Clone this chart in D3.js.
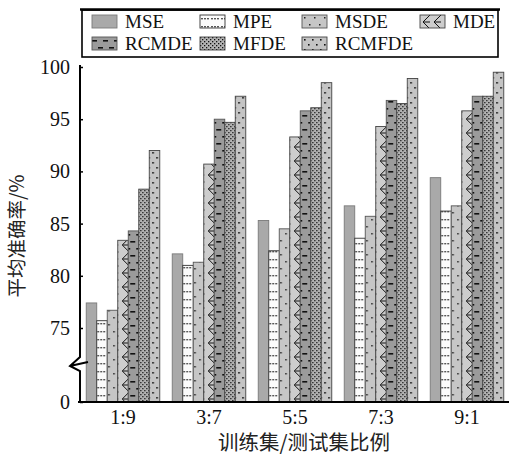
<!DOCTYPE html>
<html>
<head>
<meta charset="utf-8">
<script src="https://cdn.jsdelivr.net/npm/d3@7"></script>
<style>
  body { margin: 0; background: #fff; }
  svg { display: block; }
</style>
</head>
<body>
<svg id="chart" width="509" height="456"></svg>
<script>
// data
const categories = ['1:9', '3:7', '5:5', '7:3', '9:1']
const seriesNames = ['MSE', 'MPE', 'MSDE', 'MDE', 'RCMDE', 'MFDE', 'RCMFDE']
const mse = [77.4, 82.1, 85.3, 86.7, 89.4]
const mpe = [75.7, 81.0, 82.4, 83.6, 86.2]
const msde = [76.7, 81.3, 84.5, 85.7, 86.7]
const mde = [83.4, 90.7, 93.3, 94.3, 95.8]
const rcmde = [84.3, 95.0, 95.8, 96.8, 97.2]
const mfde = [88.3, 94.7, 96.1, 96.5, 97.2]
const rcmfde = [92.0, 97.2, 98.5, 98.9, 99.5]
const yTicks = [0, 75, 80, 85, 90, 95, 100]

const seriesValues = [mse, mpe, msde, mde, rcmde, mfde, rcmfde]

const svg = d3.select('#chart')
const defs = svg.append('defs')

// fill patterns, one per series
function pattern(id, w, h, bg, draw) {
  const p = defs.append('pattern')
    .attr('id', id)
    .attr('patternUnits', 'userSpaceOnUse')
    .attr('width', w).attr('height', h)
  p.append('rect').attr('width', w).attr('height', h).attr('fill', bg)
  draw(p)
}

pattern('p-mse', 8, 8, '#a9a9a9', () => {})
pattern('p-mpe', 10, 8, '#fbfbfb', p => {
  [2, 5, 8].forEach(x => p.append('rect').attr('x', x - 0.7).attr('y', 3).attr('width', 1.4).attr('height', 1.4).attr('fill', '#111'))
})
pattern('p-msde', 10, 14, '#c6c6c6', p => {
  p.append('rect').attr('x', 2).attr('y', 2).attr('width', 1.5).attr('height', 1.5).attr('fill', '#222')
  p.append('rect').attr('x', 7).attr('y', 9).attr('width', 1.5).attr('height', 1.5).attr('fill', '#222')
})
pattern('p-mde', 11, 14, '#cdcdcd', p => {
  p.append('path').attr('d', 'M10,0 L3,7 L10,7 M3,7 L10,14')
    .attr('stroke', '#111').attr('stroke-width', 1).attr('fill', 'none')
})
pattern('p-rcmde', 11, 14, '#9b9b9b', p => {
  p.append('rect').attr('x', 0).attr('y', 3).attr('width', 5).attr('height', 1.6).attr('fill', '#111')
  p.append('rect').attr('x', 6).attr('y', 10).attr('width', 5).attr('height', 1.6).attr('fill', '#111')
})
pattern('p-mfde', 4, 4, '#b4b4b4', p => {
  p.append('rect').attr('x', 0).attr('y', 0).attr('width', 1.3).attr('height', 1.3).attr('fill', '#111')
  p.append('rect').attr('x', 2).attr('y', 2).attr('width', 1.3).attr('height', 1.3).attr('fill', '#111')
})
pattern('p-rcmfde', 8, 10, '#c4c4c4', p => {
  p.append('rect').attr('x', 2).attr('y', 2).attr('width', 1.6).attr('height', 1.6).attr('fill', '#111')
  p.append('rect').attr('x', 6).attr('y', 7).attr('width', 1.6).attr('height', 1.6).attr('fill', '#111')
})

const fills = seriesNames.map(s => `url(#p-${s.toLowerCase()})`)
const strokes = ['#7a7a7a', '#333', '#555', '#444', '#555', '#444', '#444']

// scales
const x = d3.scaleBand()
  .domain(categories)
  .range([80, 510])
  .paddingInner(0.145)
  .paddingOuter(0.0725)

const xInner = d3.scaleBand()
  .domain(seriesNames)
  .range([0, x.bandwidth()])

// broken axis: 0..70 squeezed into the bottom strip
const y = d3.scaleLinear()
  .domain([0, 70, 100])
  .range([402, 380.2, 67])

// bars
const groups = svg.append('g').selectAll('g')
  .data(categories)
  .join('g')
  .attr('transform', d => `translate(${x(d)},0)`)

groups.selectAll('rect')
  .data((c, i) => seriesNames.map((s, k) => ({ s, k, v: seriesValues[k][i] })))
  .join('rect')
  .attr('x', d => xInner(d.s))
  .attr('y', d => y(d.v))
  .attr('width', xInner.bandwidth())
  .attr('height', d => y(0) - y(d.v))
  .attr('fill', d => fills[d.k])
  .attr('stroke', d => strokes[d.k])
  .attr('stroke-width', 0.9)

// x axis
const xAxis = d3.axisBottom(x).tickSize(0).tickPadding(8)
const gx = svg.append('g')
  .attr('transform', `translate(0,${y(0)})`)
  .call(xAxis)
gx.select('.domain').remove()
gx.append('line')
  .attr('x1', 78).attr('x2', 509)
  .attr('stroke', '#000').attr('stroke-width', 2.2)
gx.selectAll('.tick text')
  .attr('font-family', '"Liberation Serif", "Times New Roman", serif')
  .attr('font-size', 20)
  .attr('fill', '#111')

// y axis
const yAxis = d3.axisLeft(y).tickValues(yTicks).tickSize(-3).tickPadding(10)
const gy = svg.append('g')
  .attr('transform', 'translate(80,0)')
  .call(yAxis)
gy.select('.domain').remove()
gy.selectAll('.tick line').attr('stroke', '#000').attr('stroke-width', 1.5)
gy.selectAll('.tick text')
  .attr('font-family', '"Liberation Serif", "Times New Roman", serif')
  .attr('font-size', 20)
  .attr('fill', '#111')

// axis line with break mark
svg.append('path')
  .attr('d', `M80,${y(100) - 2} V357 L70,366 L80,371 V${y(0)} M70,366 L88,362`)
  .attr('fill', 'none')
  .attr('stroke', '#000')
  .attr('stroke-width', 2)

// axis titles
svg.append('text')
  .attr('transform', 'translate(24,236) rotate(-90)')
  .attr('text-anchor', 'middle')
  .attr('font-family', '"Noto Sans CJK SC", sans-serif')
  .attr('font-size', 19.5)
  .attr('fill', '#222')
  .text('平均准确率/%')

svg.append('text')
  .attr('x', 304).attr('y', 450)
  .attr('text-anchor', 'middle')
  .attr('font-family', '"Noto Sans CJK SC", sans-serif')
  .attr('font-size', 20.5)
  .attr('fill', '#222')
  .text('训练集/测试集比例')

// legend
const legend = svg.append('g')
legend.append('rect')
  .attr('x', 82).attr('y', 10)
  .attr('width', 416).attr('height', 47)
  .attr('fill', '#fff')
  .attr('stroke', '#000')
  .attr('stroke-width', 1.6)
legend.append('line')
  .attr('x1', 80).attr('x2', 500).attr('y1', 9.5).attr('y2', 9.5)
  .attr('stroke', '#000').attr('stroke-width', 2.5)

const legendCols = [92, 200, 302, 420]
const legendRows = [15, 37]
const items = legend.selectAll('g.item')
  .data(seriesNames.map((s, k) => ({ s, k })))
  .join('g')
  .attr('class', 'item')
  .attr('transform', d => `translate(${legendCols[d.k % 4]},${legendRows[Math.floor(d.k / 4)]})`)

items.append('rect')
  .attr('width', 25).attr('height', 13)
  .attr('fill', d => fills[d.k])
  .attr('stroke', d => strokes[d.k])
  .attr('stroke-width', 0.9)

items.append('text')
  .attr('x', 33).attr('y', 12.5)
  .attr('font-family', '"Liberation Serif", "Times New Roman", serif')
  .attr('font-size', 19)
  .attr('fill', '#111')
  .text(d => d.s)
</script>
</body>
</html>
